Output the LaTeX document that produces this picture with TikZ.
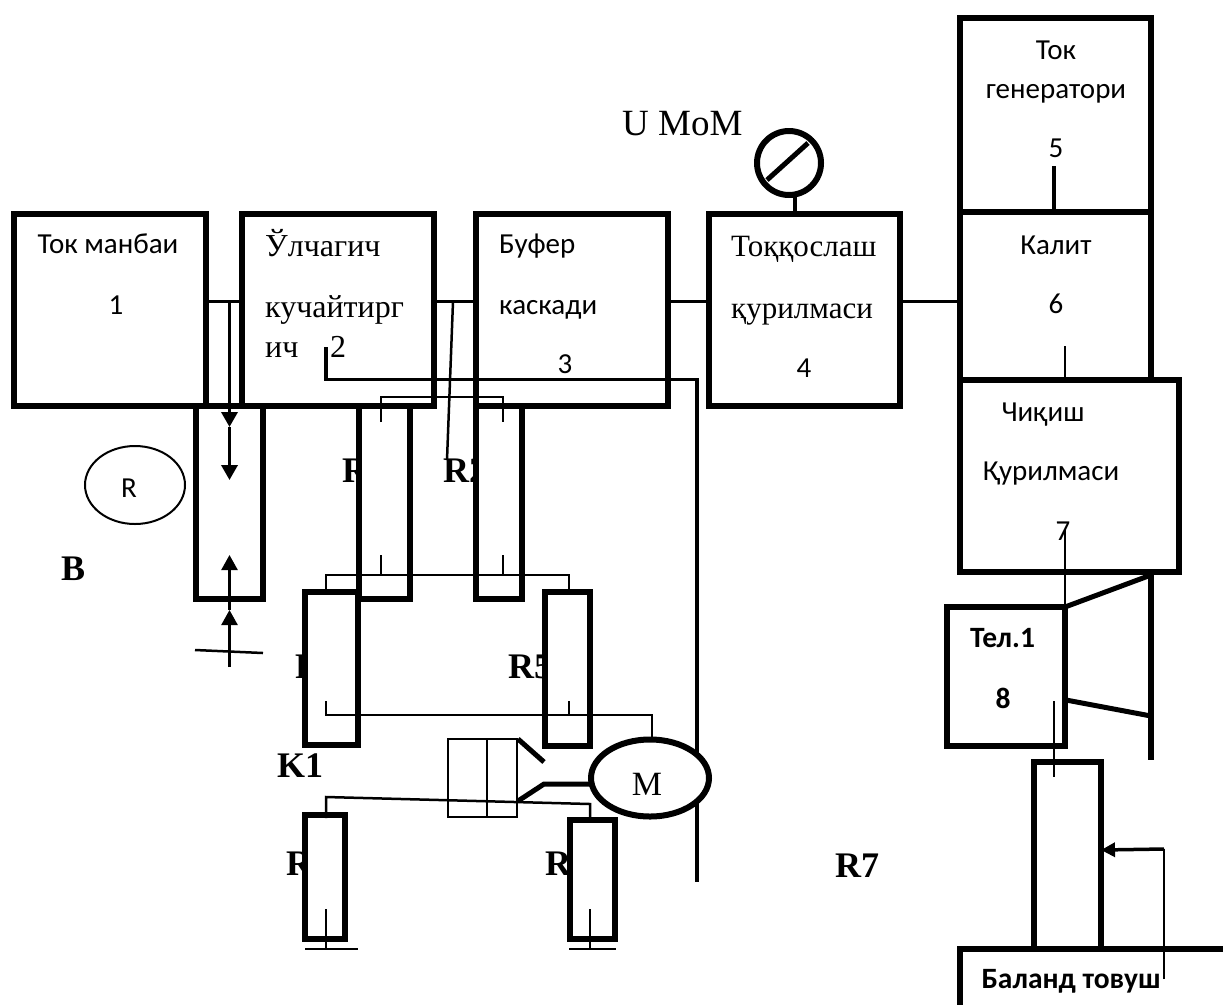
\documentclass[tikz,border=0pt]{standalone}
\usepackage{fontspec}
\setmainfont{Liberation Serif}
\newfontfamily\calfont{Carlito}
\usetikzlibrary{arrows.meta, calc, shapes.geometric}

\tikzset{
  blockbox/.style={draw, fill=white, line width=6pt, inner sep=0pt, outer sep=0pt},
  wire/.style={line width=3.5pt},
  thinwire/.style={line width=2pt},
  heavy/.style={line width=6pt},
  sanstxt/.style={font=\calfont\fontsize{29}{29}\selectfont, inner sep=0pt, anchor=base},
  sansbold/.style={font=\calfont\bfseries\fontsize{29.5}{29.5}\selectfont, inner sep=0pt, anchor=base},
  seriftxt/.style={font=\fontsize{32}{32}\selectfont, inner sep=0pt, anchor=base west},
  reslabel/.style={font=\bfseries\fontsize{36}{36}\selectfont, inner sep=0pt, anchor=base west},
  headtip/.style={-{Triangle[length=15pt,width=16pt]}}
}

\begin{document}
\begin{tikzpicture}[x=1pt, y=-1pt]
  \useasboundingbox (0,0) rectangle (1223,1005);

  % Resistor labels, the boxes cover part of them
  \foreach \name/\x/\y/\txt in {
    lba/61/580/B, lbb/342/482/R, lbc/443/482/R2, lbd/295/678/R,
    lbe/508/678/R5, lbk/277/777/K1, lbf/286/875/R, lbg/545/875/R, lbh/835/877/R7
  }{
    \node[reslabel] (\name) at (\x,\y) {\txt};
  }

  % Resistors
  \foreach \name/\x/\y/\w/\h in {
    ra/229.5/502.5/67/193,
    rb/384.5/502.5/51/193,
    rc/499/502.5/46/193,
    rd/331.5/668.5/53/153,
    re/567.5/669/45/154,
    rf/325/877/40/124,
    rg/592.5/879.5/45/119,
    rh/1067.5/855.5/67/187
  }{
    \node[blockbox, minimum width=\w pt, minimum height=\h pt] (\name) at (\x,\y) {};
  }

  % Main blocks
  \foreach \name/\x/\y/\w/\h in {
    src/110/310/192/192,
    amp/338/310/192/192,
    buf/572/310/192/192,
    mix/804.5/310/191/192,
    gen/1055.5/115/191/194,
    key/1055.5/296/191/168,
    out/1069.5/476/219/192,
    tel/1006/676.5/118/139
  }{
    \node[blockbox, minimum width=\w pt, minimum height=\h pt] (\name) at (\x,\y) {};
  }
  \draw[heavy] (1223,949) -| (960,1005);

  % Block texts
  \foreach \name/\x/\y/\txt in {
    tsrc/108/253/Ток манбаи, tsrcn/116/314/1,
    tbufn/565/373/3, tmixn/804/377/4,
    tgena/1056/59/Ток, tgenb/1056/98/генератори, tgenn/1056/157/5,
    tkey/1056/254/Калит, tkeyn/1056/313/6,
    touta/1043/421/Чиқиш, toutb/1051/480/Қурилмаси, toutn/1063/540/7,
    trr/129/497/R
  }{
    \node[sanstxt] (\name) at (\x,\y) {\txt};
  }
  \node[sanstxt, anchor=base west] (tbufa) at (499,253) {Буфер};
  \node[sanstxt, anchor=base west] (tbufb) at (499,314) {каскади};
  \foreach \name/\x/\y/\txt in {
    tampa/265/256/Ўлчагич, tampb/265/317/кучайтирг, tampc/265/357/ич, tampn/330/357/2
  }{
    \node[seriftxt] (\name) at (\x,\y) {\txt};
  }
  \node[seriftxt, font=\fontsize{31}{31}\selectfont] (tmixa) at (731,256) {Тоққослаш};
  \node[seriftxt, font=\fontsize{31}{31}\selectfont] (tmixb) at (731,318) {қурилмаси};
  \node[sansbold] (ttel) at (1002.5,647) {Тел.1};
  \node[sansbold] (ttelb) at (1003,708) {8};
  \node[sansbold] (tbal) at (1071,988) {Баланд товуш};
  \node[seriftxt, font=\fontsize{37}{37}\selectfont] (tmeter) at (622,135) {U MoM};

  % Meter on top of block 4
  \node[draw, circle, line width=6pt, minimum size=64pt, inner sep=0pt, outer sep=0pt] (meter) at (789,163) {};
  \draw[line width=5pt] (767,180) -- (808,143);
  \draw[wire] (795,196) -- (mix.north -| 795,0);

  % Chain along the top row
  \coordinate (busy) at (0,301.5);
  \draw[wire] (src.east |- busy) -- (amp.west |- busy);
  \draw[wire] (amp.east |- busy) -- (buf.west |- busy);
  \draw[wire] (buf.east |- busy) -- (mix.west |- busy);
  \draw[wire] (mix.east |- busy) -- (key.west |- busy);
  \draw[wire] (1054,166) -- (key.north -| 1054,0);
  \draw[thinwire] (1065,346) -- (out.north -| 1065,0);

  % Slider arrows of the first resistor
  \coordinate (dropa) at (229.5,301.5);
  \coordinate (dropb) at (229.5,427);
  \coordinate (dropc) at (229.5,480);
  \coordinate (risea) at (229.5,667);
  \coordinate (riseb) at (229.5,610);
  \coordinate (risec) at (229.5,555);
  \draw[wire, headtip] (dropa) -- (dropb);
  \draw[wire, headtip] (dropb) -- (dropc);
  \draw[line width=2.5pt, headtip] (risea) -- (riseb);
  \draw[line width=2.5pt, headtip] (riseb) -- (risec);
  \draw[line width=2.5pt] (195,650) -- (263,653);
  \node[draw, ellipse, line width=2pt, minimum width=100pt, minimum height=78pt, inner sep=0pt] (rcirc) at (135,485) {};

  % Long wire from block 2
  \draw[wire] (326,347) |- (697,379.5) -- (697,882);
  \draw[line width=2.5pt] (453,301.5) -- (447,460);

  % Resistor ties
  \draw[thinwire] (381,422) |- (503,396.5) -- (503,422);
  \draw[thinwire] (rd.north -| 326,0) -- (326,575) -- (569,575) -- (re.north -| 569,0);
  \draw[thinwire] (381,555) -- (381,575);
  \draw[thinwire] (503,555) -- (503,575);

  % Switch and motor
  \node[draw, line width=2pt, minimum width=69pt, minimum height=78pt, inner sep=0pt] (kbox) at (482.5,778) {};
  \draw[thinwire] (487,739) -- (487,817);
  \node[draw, ellipse, fill=white, line width=6pt, minimum width=118pt, minimum height=77pt, inner sep=0pt, outer sep=0pt] (motor) at (650,778) {};
  \node[font=\fontsize{34}{34}\selectfont, inner sep=0pt, anchor=base] (tmot) at (647,795) {M};
  \draw[thinwire] (326,701) |- (652,715) -- (motor.north -| 652,0);
  \draw[thinwire] (569,701) -- (569,715);
  \draw[line width=5pt] (518,739) -- (544,762);
  \draw[line width=5pt] (518,801) -- (544,784) -- (motor.west |- 0,784);
  \draw[line width=2.5pt] (326,818) -- (326,797) -- (590,804) -- (rg.north -| 590,0);

  % Ground marks
  \draw[thinwire] (326,909) -- (326,949);
  \draw[thinwire] (305,949) -- (358,949);
  \draw[thinwire] (590,909) -- (590,949);
  \draw[thinwire] (569,949) -- (616,949);

  % Loudspeaker and volume control
  \draw[thinwire] (1065,529) -- (tel.north -| 1065,0);
  \draw[line width=5pt] (tel.north east) -- (1151,575);
  \draw[line width=5pt] (1066,700) -- (1151,716);
  \draw[heavy] (out.south -| 1151,0) -- (1151,760);
  \draw[line width=2.5pt] (1054,701) -- (1054,777);
  \draw[thinwire] (1164,979) -- (1164,849);
  \draw[wire, -{Triangle[length=14pt,width=14pt]}] (1164,849) -- (rh.east |- 0,850);
\end{tikzpicture}
\end{document}
